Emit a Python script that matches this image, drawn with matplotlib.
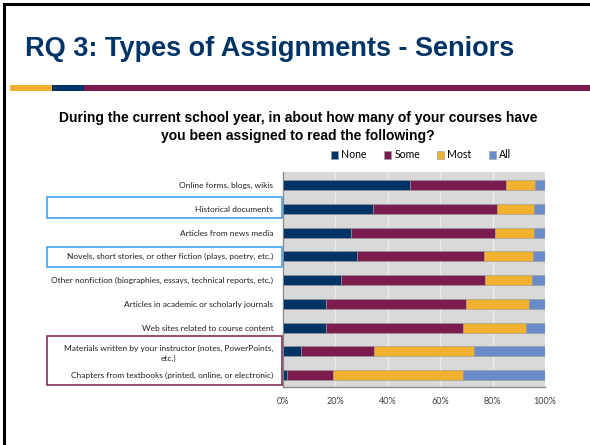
import matplotlib
matplotlib.use("Agg")
import matplotlib.pyplot as plt
from matplotlib.patches import Rectangle
import numpy as np

categories = [
    "Online forms, blogs, wikis",
    "Historical documents",
    "Articles from news media",
    "Novels, short stories, or other fiction (plays, poetry, etc.)",
    "Other nonfiction (biographies, essays, technical reports, etc.)",
    "Articles in academic or scholarly journals",
    "Web sites related to course content",
    "Materials written by your instructor (notes, PowerPoints,\netc.)",
    "Chapters from textbooks (printed, online, or electronic)",
]
none = [48.3, 34.2, 26.0, 28.1, 22.3, 16.6, 16.6, 6.7, 1.4]
some = [36.9, 47.6, 54.9, 48.8, 54.8, 53.2, 52.1, 28.0, 17.7]
most = [11.0, 13.9, 14.9, 18.5, 18.1, 24.0, 24.1, 38.2, 49.6]
all_ = [3.8, 4.3, 4.2, 4.6, 4.8, 6.2, 7.2, 27.1, 31.3]
series_names = ["None", "Some", "Most", "All"]
colors = ["#003366", "#7b1c4e", "#efb12f", "#6a8bcb"]
xticks = [0, 20, 40, 60, 80, 100]
xticklabels = ["0%", "20%", "40%", "60%", "80%", "100%"]

W, H = 590, 445
fig = plt.figure(figsize=(W / 100, H / 100), dpi=100)

def fx(px):
    return px / W

def fy(py):
    return 1 - py / H

# slide frame (left and top black lines)
fig.add_artist(plt.Line2D([fx(3.5), fx(3.5)], [0, fy(3.5)], color="black", lw=2.2, transform=fig.transFigure))
fig.add_artist(plt.Line2D([fx(3.5), 1], [fy(3.5), fy(3.5)], color="black", lw=2.2, transform=fig.transFigure))

# title
fig.text(fx(25), fy(49), "RQ 3: Types of Assignments - Seniors", fontsize=19.5,
         fontweight="bold", color="#003366", ha="left", va="center", family="Liberation Sans")

# stripe under title
for x0, x1, c in [(10, 52, "#efb12f"), (52, 84, "#003366"), (84, 590, "#7b1c4e")]:
    fig.add_artist(Rectangle((fx(x0), fy(91)), fx(x1 - x0), (91 - 85) / H, color=c,
                             transform=fig.transFigure, lw=0))

# subtitle
fig.text(fx(298), fy(127), "During the current school year, in about how many of your courses have\nyou been assigned to read the following?",
         fontsize=10, fontweight="bold", ha="center", va="center", family="Liberation Sans",
         linespacing=1.35)

ax = fig.add_axes([fx(283), fy(387), fx(545 - 283), (387 - 172) / H])
ax.set_facecolor("#d9d9d9")
y = np.arange(len(categories))
left = np.zeros(len(categories))
for vals, name, c in zip([none, some, most, all_], series_names, colors):
    v = np.array(vals)
    ax.barh(y, v, left=left, height=0.42, color=c, edgecolor="#9a9a9a", linewidth=0.4,
            label=name, zorder=3)
    left += v
ax.set_xlim(0, 100)
ax.set_ylim(len(categories) - 0.5, -0.55)
ax.set_xticks(xticks)
ax.set_xticklabels(xticklabels, fontsize=6.5, color="#404040", family="Lato")
ax.set_yticks(y)
ax.set_yticklabels(categories, fontsize=6.0, color="#202020", family="Lato", linespacing=1.4)
for t in ax.get_yticklabels():
    t.set_multialignment("center")
ax.tick_params(axis="both", length=0)
ax.tick_params(axis="y", pad=7)
ax.tick_params(axis="x", pad=7)
ax.xaxis.grid(True, color="#ebebeb", lw=1.0, zorder=0)
ax.set_axisbelow(True)
for s in ["top", "right"]:
    ax.spines[s].set_visible(False)
for s in ["left", "bottom"]:
    ax.spines[s].set_color("#8c8c8c")
    ax.spines[s].set_linewidth(1.0)

leg = fig.legend(*ax.get_legend_handles_labels(), loc="center", bbox_to_anchor=(fx(421), fy(155)),
                 ncol=4, frameon=False, handlelength=0.7, handleheight=0.7,
                 handletextpad=0.3, columnspacing=1.6, prop={"family": "Lato", "size": 7.6})

# highlight boxes around labels
boxes = [(47, 197, 282, 218, "#3399ee"), (47, 247, 282, 267, "#3399ee"), (47, 336, 282, 385, "#7b1c4e")]
for x0, y0, x1, y1, c in boxes:
    fig.add_artist(Rectangle((fx(x0), fy(y1)), fx(x1 - x0), (y1 - y0) / H, fill=False,
                             edgecolor=c, lw=1.1, transform=fig.transFigure, zorder=5))

fig.savefig("out.png", dpi=100)
